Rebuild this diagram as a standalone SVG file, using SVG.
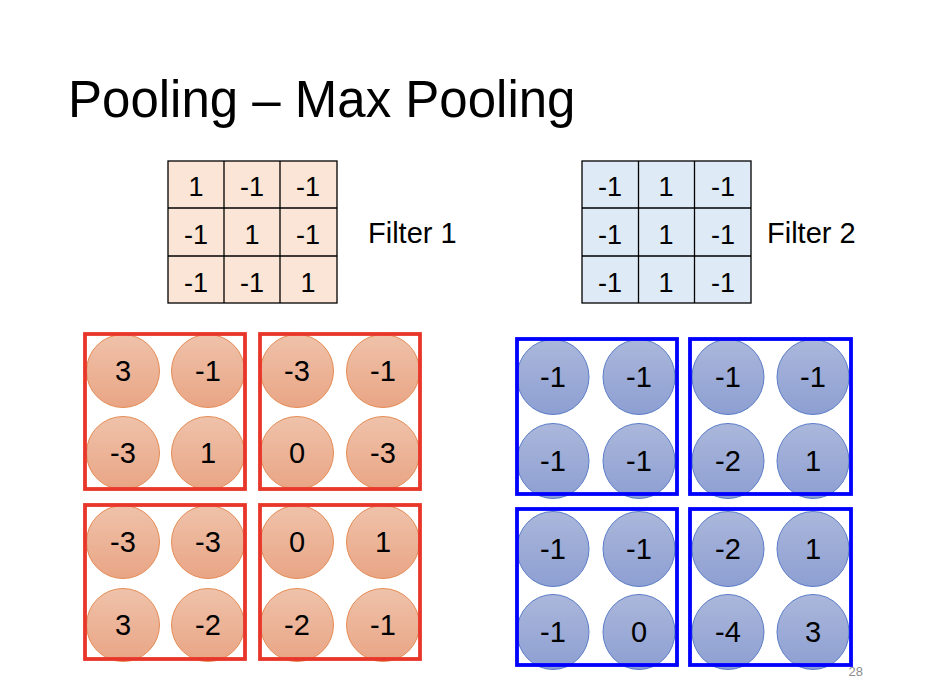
<svg xmlns="http://www.w3.org/2000/svg" width="934" height="698" viewBox="0 0 934 698">
<defs>
<linearGradient id="gOr" x1="0" y1="0" x2="0" y2="1">
<stop offset="0" stop-color="#EFC2AA"/>
<stop offset="1" stop-color="#E9A585"/>
</linearGradient>
<linearGradient id="gBl" x1="0" y1="0" x2="0" y2="1">
<stop offset="0" stop-color="#ABB7DB"/>
<stop offset="1" stop-color="#8D9FD2"/>
</linearGradient>
<style>
text{font-family:"Liberation Sans",Arial,sans-serif;fill:#000}
.title{font-size:51px}
.lbl{font-size:29px}
.cell{font-size:27px;text-anchor:middle}
.num{font-size:29px;text-anchor:middle}
.f1{fill:#FBE5D6;stroke:#000;stroke-width:1.3}
.f2{fill:#DEEBF7;stroke:#000;stroke-width:1.3}
.grid{stroke:#000;stroke-width:1.3;fill:none}
.oc{fill:url(#gOr);stroke:#E58C55;stroke-width:1}
.bc{fill:url(#gBl);stroke:#5B7DC8;stroke-width:1}
.rb{fill:none;stroke:#E8372A;stroke-width:3.8}
.bb{fill:none;stroke:#0000FF;stroke-width:3.8}
.pg{font-size:13px;fill:#8C8C8C;text-anchor:end}
</style>
</defs>
<rect width="934" height="698" fill="#fff"/>
<g id="title"><text class="title" x="68" y="117">Pooling – Max Pooling</text></g>

<g id="filter1">
<rect class="f1" x="168" y="161" width="169" height="142"/>
<path class="grid" d="M224 161V303M280 161V303M168 208H337M168 256H337"/>
<text class="cell" x="196" y="196">1</text><text class="cell" x="252" y="196">-1</text><text class="cell" x="308" y="196">-1</text>
<text class="cell" x="196" y="244">-1</text><text class="cell" x="252" y="244">1</text><text class="cell" x="308" y="244">-1</text>
<text class="cell" x="196" y="292">-1</text><text class="cell" x="252" y="292">-1</text><text class="cell" x="308" y="292">1</text>
</g>
<g id="filter1-label"><text class="lbl" x="368" y="243">Filter 1</text></g>

<g id="filter2">
<rect class="f2" x="582" y="161" width="169" height="142"/>
<path class="grid" d="M638.5 161V303M694.5 161V303M582 208H751M582 256H751"/>
<text class="cell" x="610" y="196">-1</text><text class="cell" x="666" y="196">1</text><text class="cell" x="723" y="196">-1</text>
<text class="cell" x="610" y="244">-1</text><text class="cell" x="666" y="244">1</text><text class="cell" x="723" y="244">-1</text>
<text class="cell" x="610" y="292">-1</text><text class="cell" x="666" y="292">1</text><text class="cell" x="723" y="292">-1</text>
</g>
<g id="filter2-label"><text class="lbl" x="767" y="243">Filter 2</text></g>

<g id="pool-red-tl">
<circle class="oc" cx="123" cy="371" r="36.5"/><circle class="oc" cx="208" cy="371" r="36.5"/>
<circle class="oc" cx="123" cy="453" r="36.5"/><circle class="oc" cx="208" cy="453" r="36.5"/>
<text class="num" x="123" y="381">3</text><text class="num" x="208" y="381">-1</text>
<text class="num" x="123" y="463">-3</text><text class="num" x="208" y="463">1</text>
<rect class="rb" x="85" y="334" width="160" height="155"/>
</g>
<g id="pool-red-tr">
<circle class="oc" cx="297" cy="371" r="36.5"/><circle class="oc" cx="383" cy="371" r="36.5"/>
<circle class="oc" cx="297" cy="453" r="36.5"/><circle class="oc" cx="383" cy="453" r="36.5"/>
<text class="num" x="297" y="381">-3</text><text class="num" x="383" y="381">-1</text>
<text class="num" x="297" y="463">0</text><text class="num" x="383" y="463">-3</text>
<rect class="rb" x="260" y="334" width="160" height="155"/>
</g>
<g id="pool-red-bl">
<circle class="oc" cx="123" cy="542" r="36.5"/><circle class="oc" cx="208" cy="542" r="36.5"/>
<circle class="oc" cx="123" cy="625" r="36.5"/><circle class="oc" cx="208" cy="625" r="36.5"/>
<text class="num" x="123" y="552">-3</text><text class="num" x="208" y="552">-3</text>
<text class="num" x="123" y="635">3</text><text class="num" x="208" y="635">-2</text>
<rect class="rb" x="85" y="505" width="160" height="154"/>
</g>
<g id="pool-red-br">
<circle class="oc" cx="297" cy="542" r="36.5"/><circle class="oc" cx="383" cy="542" r="36.5"/>
<circle class="oc" cx="297" cy="625" r="36.5"/><circle class="oc" cx="383" cy="625" r="36.5"/>
<text class="num" x="297" y="552">0</text><text class="num" x="383" y="552">1</text>
<text class="num" x="297" y="635">-2</text><text class="num" x="383" y="635">-1</text>
<rect class="rb" x="260" y="505" width="160" height="154"/>
</g>

<g id="pool-blue-tl">
<ellipse class="bc" cx="553" cy="377" rx="36" ry="37.5"/><ellipse class="bc" cx="639" cy="377" rx="36" ry="37.5"/>
<ellipse class="bc" cx="553" cy="461" rx="36" ry="37.5"/><ellipse class="bc" cx="639" cy="461" rx="36" ry="37.5"/>
<text class="num" x="553" y="387">-1</text><text class="num" x="639" y="387">-1</text>
<text class="num" x="553" y="471">-1</text><text class="num" x="639" y="471">-1</text>
<rect class="bb" x="517" y="339" width="160" height="155"/>
</g>
<g id="pool-blue-tr">
<ellipse class="bc" cx="728" cy="377" rx="36" ry="37.5"/><ellipse class="bc" cx="813" cy="377" rx="36" ry="37.5"/>
<ellipse class="bc" cx="728" cy="461" rx="36" ry="37.5"/><ellipse class="bc" cx="813" cy="461" rx="36" ry="37.5"/>
<text class="num" x="728" y="387">-1</text><text class="num" x="813" y="387">-1</text>
<text class="num" x="728" y="471">-2</text><text class="num" x="813" y="471">1</text>
<rect class="bb" x="690" y="339" width="161" height="155"/>
</g>
<g id="pool-blue-bl">
<ellipse class="bc" cx="553" cy="549" rx="36" ry="37.5"/><ellipse class="bc" cx="639" cy="549" rx="36" ry="37.5"/>
<ellipse class="bc" cx="553" cy="632" rx="36" ry="37.5"/><ellipse class="bc" cx="639" cy="632" rx="36" ry="37.5"/>
<text class="num" x="553" y="559">-1</text><text class="num" x="639" y="559">-1</text>
<text class="num" x="553" y="642">-1</text><text class="num" x="639" y="642">0</text>
<rect class="bb" x="517" y="509" width="160" height="156"/>
</g>
<g id="pool-blue-br">
<ellipse class="bc" cx="728" cy="549" rx="36" ry="37.5"/><ellipse class="bc" cx="813" cy="549" rx="36" ry="37.5"/>
<ellipse class="bc" cx="728" cy="632" rx="36" ry="37.5"/><ellipse class="bc" cx="813" cy="632" rx="36" ry="37.5"/>
<text class="num" x="728" y="559">-2</text><text class="num" x="813" y="559">1</text>
<text class="num" x="728" y="642">-4</text><text class="num" x="813" y="642">3</text>
<rect class="bb" x="690" y="509" width="161" height="156"/>
</g>

<g id="connectors"></g>
<g id="page-number"><text class="pg" x="863" y="676">28</text></g>
</svg>
